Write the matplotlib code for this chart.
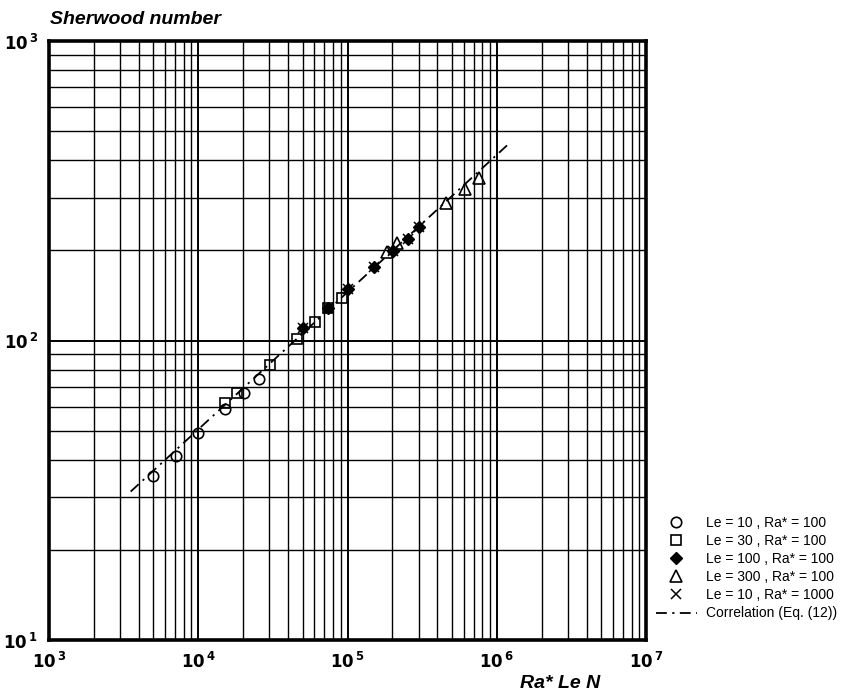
import matplotlib
matplotlib.use("Agg")
import matplotlib.pyplot as plt

# data (x = Ra* Le N, y = Sherwood number)
le10_x = [5000, 7100, 10000, 15100, 20250, 25500]
le10_y = [35.4, 41.1, 49.0, 58.9, 67.0, 74.6]

le30_x = [15100, 18100, 30400, 45650, 60500, 74300, 91400]
le30_y = [61.7, 67.0, 83.0, 100.9, 115.6, 128.0, 138.4]

le100_x = [50600, 74300, 101300, 151400, 202700, 252800, 302700]
le100_y = [109.8, 128.0, 148.3, 175.6, 199.0, 219.0, 238.7]

le300_x = [183000, 213800, 457000, 612000, 760000]
le300_y = [198.0, 211.0, 287.0, 320.6, 348.0]

le10_ra1000_x = [50600, 74300, 101300, 151400, 202700, 252800, 302700]
le10_ra1000_y = [109.8, 128.0, 148.3, 175.6, 199.0, 219.0, 238.7]

corr_x = [3525, 1.246e6]
corr_y = [31.3, 461.0]

plt.rcParams['font.family'] = ['Liberation Sans', 'DejaVu Sans']

fig = plt.figure(figsize=(8.5, 7), dpi=100)
ax = fig.add_axes([49 / 850, 60 / 700, 597 / 850, 599 / 700])
ax.set_xscale('log')
ax.set_yscale('log')
ax.set_xlim(1e3, 1e7)
ax.set_ylim(10, 1000)

ax.grid(True, which='major', color='black', linewidth=1.4)
ax.grid(True, which='minor', color='black', linewidth=1.0)
ax.set_axisbelow(True)
for s in ax.spines.values():
    s.set_linewidth(2.6)
ax.tick_params(which='both', length=0, pad=8)

ax.set_xticks([1e3, 1e4, 1e5, 1e6, 1e7])
ax.set_xticklabels([r'$\mathbf{10^{\,%d}}$' % e for e in range(3, 8)], fontsize=12)
ax.set_yticks([10, 100, 1000])
ax.set_yticklabels([r'$\mathbf{10^{\,%d}}$' % e for e in range(1, 4)], fontsize=12)

ms = 7.5
ax.plot(le10_x, le10_y, 'o', mfc='none', mec='black', mew=1.2, ms=ms,
        label='Le = 10 , Ra* = 100')
ax.plot(le30_x, le30_y, 's', mfc='none', mec='black', mew=1.2, ms=ms - 0.5,
        label='Le = 30 , Ra* = 100')
ax.plot(le100_x, le100_y, 'D', mfc='black', mec='black', ms=ms - 1,
        label='Le = 100 , Ra* = 100')
ax.plot(le300_x, le300_y, '^', mfc='none', mec='black', mew=1.2, ms=ms + 1,
        label='Le = 300 , Ra* = 100')
ax.plot(le10_ra1000_x, le10_ra1000_y, 'x', color='black', mew=1.1, ms=ms,
        label='Le = 10 , Ra* = 1000')
ax.plot(corr_x, corr_y, color='black', linewidth=1.3,
        linestyle=(0, (6, 3, 1.2, 3)), label='Correlation (Eq. (12))')

leg = ax.legend(loc='upper left', bbox_to_anchor=(650 / 850, 1 - 510 / 700),
                bbox_transform=fig.transFigure, frameon=False, fontsize=10,
                handlelength=3.0, handletextpad=0.6, labelspacing=0.3,
                borderaxespad=0)

fig.text(50 / 850, 1 - 20 / 700, 'Sherwood number', fontsize=14,
         fontweight='bold', fontstyle='italic', va='center', ha='left')
fig.text(600 / 850, 1 - 683 / 700, 'Ra* Le N', fontsize=14,
         fontweight='bold', fontstyle='italic', va='center', ha='right')

fig.savefig('out.png', dpi=100)
